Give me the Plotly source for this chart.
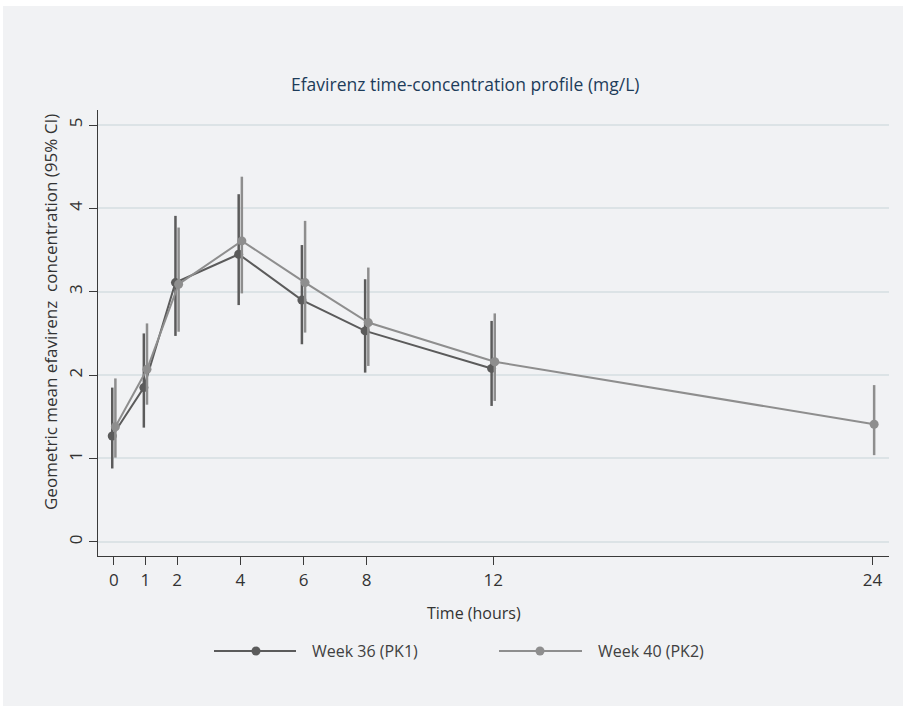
import plotly.graph_objects as go

# Sampling times (hours) and geometric means with 95% CI bounds
times_pk1 = [0, 1, 2, 4, 6, 8, 12]
mean_pk1 = [1.27, 1.85, 3.11, 3.45, 2.90, 2.53, 2.08]
lo_pk1 = [0.88, 1.37, 2.47, 2.84, 2.37, 2.03, 1.63]
hi_pk1 = [1.85, 2.50, 3.91, 4.17, 3.56, 3.15, 2.65]

times_pk2 = [0, 1, 2, 4, 6, 8, 12, 24]
mean_pk2 = [1.38, 2.07, 3.09, 3.61, 3.11, 2.63, 2.16, 1.41]
lo_pk2 = [1.01, 1.645, 2.52, 2.98, 2.51, 2.11, 1.69, 1.04]
hi_pk2 = [1.96, 2.62, 3.77, 4.38, 3.85, 3.29, 2.74, 1.88]

x_ticks = [0, 1, 2, 4, 6, 8, 12, 24]
y_ticks = [0, 1, 2, 3, 4, 5]

series_names = ["Week 36 (PK1)", "Week 40 (PK2)"]
series_colors = ["#5b5b5b", "#8e8e8e"]
dodge = 0.05  # small horizontal offset so the two CIs don't overlap

FONT = "Open Sans"
PANEL = "#f1f2f4"

fig = go.Figure()

def add_series(t, m, lo, hi, name, color, shift):
    fig.add_trace(go.Scatter(
        x=[v + shift for v in t], y=m, name=name, mode="lines+markers",
        line=dict(color=color, width=2),
        marker=dict(color=color, size=9),
        error_y=dict(type="data", symmetric=False,
                     array=[h - v for h, v in zip(hi, m)],
                     arrayminus=[v - l for v, l in zip(m, lo)],
                     color=color, thickness=2.5, width=0),
        showlegend=False,
    ))

add_series(times_pk1, mean_pk1, lo_pk1, hi_pk1, series_names[0], series_colors[0], -dodge)
add_series(times_pk2, mean_pk2, lo_pk2, hi_pk2, series_names[1], series_colors[1], dodge)

# plot area in pixels: x 98..889, y 110..556
L, R, T, B = 98, 17, 110, 156
PW, PH = 906 - L - R, 712 - T - B

def px(xp):
    return (xp - L) / PW

def py(yp):
    return (712 - B - yp) / PH

shapes = [
    # grey background panel
    dict(type="rect", xref="paper", yref="paper", x0=px(3), x1=px(903), y0=py(706), y1=py(6),
         fillcolor=PANEL, line=dict(width=0), layer="below"),
]

annotations = [
    dict(text="Efavirenz time-concentration profile (mg/L)", xref="paper", yref="paper",
         x=px(465), y=py(84), showarrow=False, xanchor="center", yanchor="middle",
         font=dict(family=FONT, size=17.5, color="#1d3c5a")),
    dict(text="Time (hours)", xref="paper", yref="paper",
         x=px(474), y=py(613), showarrow=False, xanchor="center", yanchor="middle",
         font=dict(family=FONT, size=16, color="#333333")),
    dict(text="Geometric mean efavirenz  concentration (95% CI)", xref="paper", yref="paper",
         x=px(50), y=py(312), showarrow=False, textangle=-90, xanchor="center", yanchor="middle",
         font=dict(family=FONT, size=17, color="#333333")),
]

# legend keys drawn as line samples with a centred marker
legend_items = [(214, 296, 256, 310), (499, 582, 540, 596)]
for (x0, x1, xm, xt), name, color in zip(legend_items, series_names, series_colors):
    yl = py(651)
    shapes.append(dict(type="line", xref="paper", yref="paper", x0=px(x0), x1=px(x1),
                       y0=yl, y1=yl, line=dict(color=color, width=2)))
    r = 4.5
    shapes.append(dict(type="circle", xref="paper", yref="paper",
                       x0=px(xm - r), x1=px(xm + r), y0=py(651 + r), y1=py(651 - r),
                       fillcolor=color, line=dict(width=0)))
    annotations.append(dict(text=name, xref="paper", yref="paper", x=px(xt), y=yl,
                            showarrow=False, xanchor="left", yanchor="middle",
                            font=dict(family=FONT, size=16, color="#404040")))

fig.update_layout(
    width=906, height=712,
    margin=dict(l=L, r=R, t=T, b=B),
    paper_bgcolor="white", plot_bgcolor=PANEL,
    font=dict(family=FONT, size=16, color="#333333"),
    shapes=shapes, annotations=annotations,
    xaxis=dict(range=[-0.5, 24.52], tickvals=x_ticks, ticktext=[str(v) for v in x_ticks],
               showgrid=False, zeroline=False, showline=True, linecolor="#3a3a3a", linewidth=1.2,
               ticks="outside", ticklen=8, tickcolor="#3a3a3a", tickwidth=1,
               tickfont=dict(family=FONT, size=17, color="#333333")),
    yaxis=dict(range=[-0.17, 5.18], tickvals=y_ticks, ticktext=[str(v) for v in y_ticks],
               showgrid=True, gridcolor="#dce3e6", gridwidth=1.5, zeroline=False,
               showline=True, linecolor="#3a3a3a", linewidth=1.2,
               ticks="outside", ticklen=8, tickcolor="#3a3a3a", tickwidth=1, tickangle=-90,
               tickfont=dict(family=FONT, size=17, color="#333333")),
)

fig.write_html("out.html")
